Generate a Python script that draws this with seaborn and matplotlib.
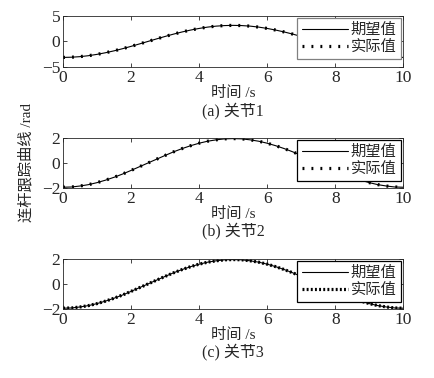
import numpy as np
import matplotlib
matplotlib.use("Agg")
import matplotlib.pyplot as plt
import seaborn as sns

# time samples (s)
t = [0.0, 0.25, 0.5, 0.75, 1.0, 1.25, 1.5, 1.75, 2.0, 2.25,
     2.5, 2.75, 3.0, 3.25, 3.5, 3.75, 4.0, 4.25, 4.5, 4.75,
     5.0, 5.25, 5.5, 5.75, 6.0, 6.25, 6.5, 6.75, 7.0, 7.25,
     7.5, 7.75, 8.0, 8.25, 8.5, 8.75, 9.0, 9.25, 9.5, 9.75, 10.0]

# joint 1 (rad)
desired1 = [-3.14, -3.10, -2.99, -2.80, -2.54, -2.22, -1.85, -1.43, -0.97, -0.49,
            0.00, 0.49, 0.97, 1.43, 1.85, 2.22, 2.54, 2.80, 2.99, 3.10,
            3.14, 3.10, 2.99, 2.80, 2.54, 2.22, 1.85, 1.43, 0.97, 0.49,
            0.00, -0.49, -0.97, -1.43, -1.85, -2.22, -2.54, -2.80, -2.99, -3.10, -3.14]
actual1 = [-3.14, -3.10, -2.98, -2.80, -2.54, -2.22, -1.85, -1.43, -0.97, -0.49,
           0.00, 0.49, 0.97, 1.43, 1.85, 2.22, 2.54, 2.80, 2.99, 3.10,
           3.14, 3.10, 2.99, 2.80, 2.54, 2.22, 1.85, 1.43, 0.97, 0.49,
           0.00, -0.49, -0.97, -1.43, -1.85, -2.22, -2.54, -2.80, -2.99, -3.10, -3.14]

# joint 2 (rad)
desired2 = [-1.95, -1.93, -1.85, -1.74, -1.58, -1.38, -1.15, -0.89, -0.60, -0.30,
            0.00, 0.30, 0.60, 0.89, 1.15, 1.38, 1.58, 1.74, 1.85, 1.93,
            1.95, 1.93, 1.85, 1.74, 1.58, 1.38, 1.15, 0.89, 0.60, 0.30,
            0.00, -0.30, -0.60, -0.89, -1.15, -1.38, -1.58, -1.74, -1.85, -1.93, -1.95]
actual2 = [-1.95, -1.93, -1.85, -1.74, -1.58, -1.38, -1.15, -0.89, -0.60, -0.30,
           0.00, 0.30, 0.60, 0.89, 1.15, 1.38, 1.58, 1.74, 1.85, 1.93,
           1.95, 1.93, 1.85, 1.74, 1.58, 1.38, 1.15, 0.89, 0.60, 0.30,
           0.00, -0.30, -0.60, -0.89, -1.15, -1.38, -1.58, -1.74, -1.85, -1.93, -1.95]

# joint 3 (rad)
desired3 = [-1.95, -1.93, -1.85, -1.74, -1.58, -1.38, -1.15, -0.89, -0.60, -0.30,
            0.00, 0.30, 0.60, 0.89, 1.15, 1.38, 1.58, 1.74, 1.85, 1.93,
            1.95, 1.93, 1.85, 1.74, 1.58, 1.38, 1.15, 0.89, 0.60, 0.30,
            0.00, -0.30, -0.60, -0.89, -1.15, -1.38, -1.58, -1.74, -1.85, -1.93, -1.95]
actual3 = [-1.95, -1.93, -1.85, -1.74, -1.58, -1.38, -1.15, -0.89, -0.60, -0.30,
           0.00, 0.30, 0.60, 0.89, 1.15, 1.38, 1.58, 1.74, 1.85, 1.93,
           1.95, 1.93, 1.85, 1.74, 1.58, 1.38, 1.15, 0.89, 0.60, 0.30,
           0.00, -0.30, -0.60, -0.89, -1.15, -1.38, -1.58, -1.74, -1.85, -1.93, -1.95]

ylims = [(-5, 5), (-2, 2), (-2, 2)]
yticks = [[-5, 0, 5], [-2, 0, 2], [-2, 0, 2]]
captions = ["(a) 关节1", "(b) 关节2", "(c) 关节3"]
dot_styles = [(0, (0.6, 2.2)), (0, (0.6, 2.2)), (0, (0.6, 0.7))]

sns.set_style("ticks")
plt.rcParams['font.family'] = ['Liberation Serif', 'Noto Sans CJK SC', 'DejaVu Sans']
plt.rcParams['xtick.direction'] = 'in'
plt.rcParams['ytick.direction'] = 'in'
plt.rcParams['xtick.top'] = True
plt.rcParams['ytick.right'] = True
plt.rcParams['axes.unicode_minus'] = True

fig = plt.figure(figsize=(4.35, 3.78), dpi=100)
boxes = [[0.145, 0.823, 0.782, 0.135],
         [0.145, 0.503, 0.782, 0.132],
         [0.145, 0.183, 0.782, 0.132]]

series = [(desired1, actual1), (desired2, actual2), (desired3, actual3)]

for i, (box, (des, act)) in enumerate(zip(boxes, series)):
    ax = fig.add_axes(box)
    sns.lineplot(x=t, y=des, ax=ax, color='k', linewidth=0.8, label='期望值')
    sns.lineplot(x=t, y=act, ax=ax, color='k', linewidth=2.3,
                 linestyle=dot_styles[i], label='实际值')
    ax.set_xlim(0, 10)
    ax.set_ylim(*ylims[i])
    ax.set_xticks([0, 2, 4, 6, 8, 10])
    ax.set_yticks(yticks[i])
    ax.tick_params(labelsize=12.5, length=3, width=0.6, pad=2)
    for s in ax.spines.values():
        s.set_linewidth(0.6)
    ax.set_xlabel('时间 /s', fontsize=11, labelpad=0)
    leg = ax.legend(loc='upper right', fontsize=11, frameon=True, fancybox=False,
                    framealpha=1, borderaxespad=0.15, handlelength=3.0,
                    handletextpad=0.2, borderpad=0.3, labelspacing=0.2)
    leg.get_frame().set_edgecolor('gray' if i == 0 else 'k')
    leg.get_frame().set_linewidth(0.9)
    ax.text(0.5, -0.87, captions[i], transform=ax.transAxes, ha='center',
            va='center', fontsize=11.5)
    if i == 1:
        ax.set_ylabel('连杆跟踪曲线 /rad', fontsize=11, labelpad=6)

fig.savefig('out.png', dpi=100)
